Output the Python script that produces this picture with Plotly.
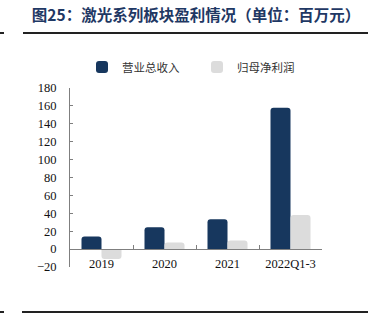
import plotly.graph_objects as go

# Laser segment profitability, million yuan
categories = ["2019", "2020", "2021", "2022Q1-3"]
revenue = [14, 24.4, 33.3, 157.8]        # 营业总收入
net_profit = [-11, 7.3, 9.6, 38]         # 归母净利润

NAVY = "#17375e"
GRAY = "#dcdcdc"
SERIF = "Liberation Serif, Times New Roman, serif"
CJK = "Noto Sans CJK SC"

fig = go.Figure()
fig.add_trace(go.Bar(name="营业总收入", x=categories, y=revenue,
                     marker=dict(color=NAVY, cornerradius=3, line=dict(width=0))))
fig.add_trace(go.Bar(name="归母净利润", x=categories, y=net_profit,
                     marker=dict(color=GRAY, cornerradius=3, line=dict(width=0))))

L, R, T, B = 70, 51, 88, 59
W, H = 373, 326
pw, ph = W - L - R, H - T - B

def px(x):
    return (x - L) / pw

def py(y):
    return (H - B - y) / ph

fig.update_layout(
    width=W, height=H,
    margin=dict(l=L, r=R, t=T, b=B, pad=0),
    paper_bgcolor="white", plot_bgcolor="white",
    barmode="group", bargap=0.365, bargroupgap=0,
    font=dict(family=SERIF, size=12, color="#222222"),
    title=dict(text="<b>图25：激光系列板块盈利情况（单位：百万元）</b>",
               xref="paper", x=0.5, xanchor="center",
               yref="container", y=1 - 16 / H, yanchor="middle",
               font=dict(family=CJK, size=15.5, color="#1f3864")),
    legend=dict(orientation="h", x=px(82), xanchor="left",
                y=py(67), yanchor="middle",
                font=dict(family=CJK, size=11.5, color="#333333"),
                itemwidth=30, entrywidth=70, traceorder="normal",
                bgcolor="rgba(0,0,0,0)"),
    xaxis=dict(anchor="free", position=0.1, showline=True, linecolor="#7f7f7f",
               linewidth=1, ticks="inside", tickson="boundaries", ticklen=4,
               tickcolor="#7f7f7f", showgrid=False, zeroline=False,
               ticklabelstandoff=3, tickfont=dict(family=SERIF, size=12.5, color="#111111")),
    yaxis=dict(range=[-20, 180], dtick=20, showline=True, linecolor="#7f7f7f",
               linewidth=1, ticks="inside", ticklen=3, tickcolor="#7f7f7f",
               showgrid=False, zeroline=False, ticklabelstandoff=10,
               tickfont=dict(family=SERIF, size=12.5, color="#111111")),
    shapes=[
        dict(type="line", xref="paper", yref="paper", x0=px(23), x1=px(368),
             y0=py(33), y1=py(33), line=dict(color="#222222", width=2)),
        dict(type="line", xref="paper", yref="paper", x0=px(0), x1=px(4),
             y0=py(33), y1=py(33), line=dict(color="#222222", width=2)),
        dict(type="line", xref="paper", yref="paper", x0=px(22), x1=px(368),
             y0=py(312), y1=py(312), line=dict(color="#222222", width=2)),
        dict(type="line", xref="paper", yref="paper", x0=px(0), x1=px(4),
             y0=py(312), y1=py(312), line=dict(color="#222222", width=2)),
    ],
)

fig.write_html("out.html")
